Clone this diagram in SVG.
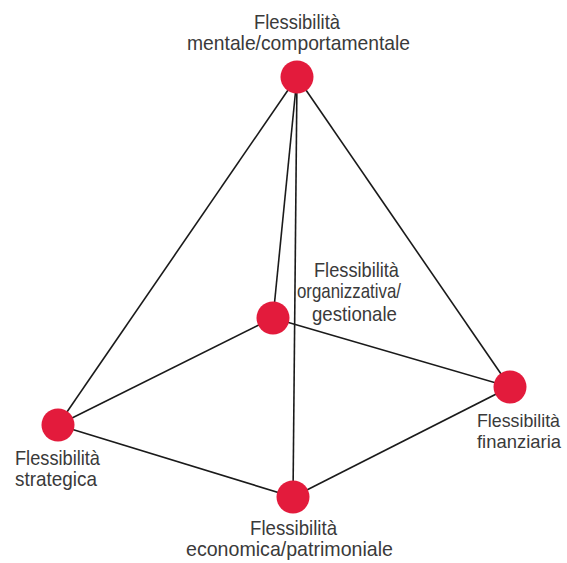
<svg xmlns="http://www.w3.org/2000/svg" width="567" height="563" viewBox="0 0 567 563">
<style>
.e{stroke:#1a1a1a;stroke-width:1.6;fill:none}
.n{fill:#e31b3c}
.t{font-family:"Liberation Sans",Arial,sans-serif;font-size:21px;fill:#3a3a3a}
.r{font-size:19px}
</style>
<rect width="567" height="563" fill="#fff"/>
<g id="connectors">
<line class="e" x1="297" y1="77" x2="58" y2="425"/>
<line class="e" x1="297" y1="77" x2="273" y2="318"/>
<line class="e" x1="297" y1="77" x2="293" y2="497"/>
<line class="e" x1="297" y1="77" x2="510" y2="387"/>
<line class="e" x1="273" y1="318" x2="58" y2="425"/>
<line class="e" x1="273" y1="318" x2="510" y2="387"/>
<line class="e" x1="58" y1="425" x2="293" y2="497"/>
<line class="e" x1="293" y1="497" x2="510" y2="387"/>
</g>
<g id="node-mentale">
<circle class="n" cx="297" cy="77" r="16.5"/>
<text class="t" x="254" y="29" textLength="86" lengthAdjust="spacingAndGlyphs">Flessibilità</text>
<text class="t" x="187" y="50" textLength="223" lengthAdjust="spacingAndGlyphs">mentale/comportamentale</text>
</g>
<g id="node-organizzativa">
<circle class="n" cx="273" cy="318" r="16.5"/>
<text class="t" x="314" y="277" textLength="85" lengthAdjust="spacingAndGlyphs">Flessibilità</text>
<text class="t" x="297" y="298" textLength="104" lengthAdjust="spacingAndGlyphs">organizzativa/</text>
<text class="t" x="312" y="321" textLength="85" lengthAdjust="spacingAndGlyphs">gestionale</text>
</g>
<g id="node-finanziaria">
<circle class="n" cx="510" cy="387" r="16.5"/>
<text class="t r" x="477" y="427" textLength="83" lengthAdjust="spacingAndGlyphs">Flessibilità</text>
<text class="t r" x="477" y="448" textLength="84" lengthAdjust="spacingAndGlyphs">finanziaria</text>
</g>
<g id="node-strategica">
<circle class="n" cx="58" cy="425" r="16.5"/>
<text class="t" x="15" y="465" textLength="85" lengthAdjust="spacingAndGlyphs">Flessibilità</text>
<text class="t" x="15" y="486" textLength="82" lengthAdjust="spacingAndGlyphs">strategica</text>
</g>
<g id="node-economica">
<circle class="n" cx="293" cy="497" r="16.5"/>
<text class="t" x="250" y="535" textLength="87" lengthAdjust="spacingAndGlyphs">Flessibilità</text>
<text class="t" x="186" y="556" textLength="207" lengthAdjust="spacingAndGlyphs">economica/patrimoniale</text>
</g>
</svg>
